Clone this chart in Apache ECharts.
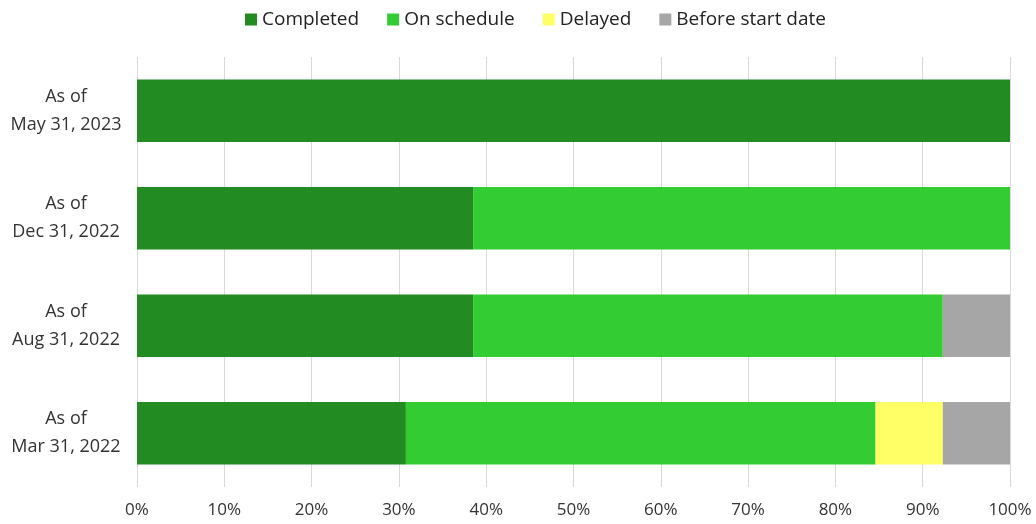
<!DOCTYPE html>
<html>
<head>
<meta charset="utf-8">
<script src="https://cdn.jsdelivr.net/npm/echarts@6/dist/echarts.min.js"></script>
<style>
  html, body { margin: 0; padding: 0; background: #fff; }
  #chart { width: 1036px; height: 524px; }
</style>
</head>
<body>
<div id="chart"></div>
<script>
  // categories, bottom to top
  var categories = ['As of\nMar 31, 2022', 'As of\nAug 31, 2022', 'As of\nDec 31, 2022', 'As of\nMay 31, 2023'];
  // share of items in each status (%)
  var completed = [30.8, 38.5, 38.5, 100];
  var onSchedule = [53.8, 53.8, 61.5, 0];
  var delayed = [7.7, 0, 0, 0];
  var beforeStart = [7.7, 7.7, 0, 0];
  var xTicks = [0, 10, 20, 30, 40, 50, 60, 70, 80, 90, 100];

  var font = '"Open Sans", sans-serif';

  function bar(name, data, color) {
    return {
      name: name,
      type: 'bar',
      stack: 'total',
      barWidth: '58%',
      data: data,
      itemStyle: { color: color }
    };
  }

  var myChart = echarts.init(document.getElementById('chart'));
  myChart.setOption({
    animation: false,
    textStyle: { fontFamily: font },
    legend: {
      top: 5,
      left: 240,
      itemWidth: 12,
      itemHeight: 12,
      itemGap: 28,
      icon: 'rect',
      textStyle: { fontSize: 19, color: '#222', fontFamily: font }
    },
    grid: { left: 137, right: 26, top: 57, bottom: 37 },
    xAxis: {
      type: 'value',
      min: xTicks[0],
      max: xTicks[xTicks.length - 1],
      interval: 10,
      axisLine: { show: false },
      axisTick: { show: false },
      splitLine: { lineStyle: { color: '#d9d9d9' } },
      axisLabel: {
        formatter: '{value}%',
        fontSize: 17,
        color: '#333',
        margin: 15,
        fontFamily: font
      }
    },
    yAxis: {
      type: 'category',
      data: categories,
      axisLine: { show: false },
      axisTick: { show: false },
      axisLabel: {
        align: 'center',
        margin: 71,
        fontSize: 18,
        lineHeight: 28,
        color: '#333',
        fontFamily: font
      }
    },
    series: [
      bar('Completed', completed, '#228b22'),
      bar('On schedule', onSchedule, '#33cc33'),
      bar('Delayed', delayed, '#ffff66'),
      bar('Before start date', beforeStart, '#a6a6a6')
    ]
  });
</script>
</body>
</html>
